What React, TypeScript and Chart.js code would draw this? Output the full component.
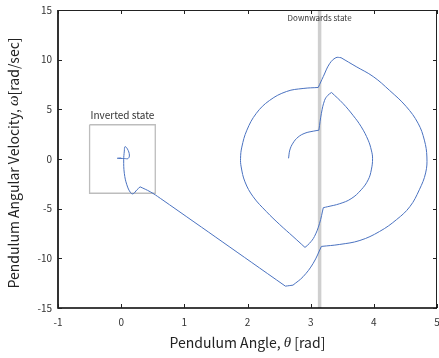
import React, { useEffect, useRef } from "react";
import { Chart, registerables } from "chart.js";

Chart.register(...registerables);

// Trajectory: pendulum angle (rad) and angular velocity (rad/sec)
// (corner points are listed twice so the smoothed line keeps its kinks)
const theta: number[] = [
  2.65, 2.67, 2.72, 2.80, 2.91, 3.04, 3.13, 3.13,
  3.17, 3.22, 3.27, 3.33, 3.33,
  3.51, 3.67, 3.80, 3.91, 3.96, 3.98, 3.96, 3.91, 3.80, 3.64, 3.46, 3.27, 3.20, 3.20,
  3.14, 3.06, 2.98, 2.91, 2.91,
  2.72, 2.51, 2.30, 2.09, 1.96, 1.90, 1.89, 1.91, 1.99, 2.14, 2.35, 2.62, 2.88, 3.12, 3.12,
  3.20, 3.30, 3.40, 3.48, 3.48,
  3.72, 3.99, 4.25, 4.51, 4.70, 4.80, 4.84, 4.82, 4.72, 4.57, 4.36, 4.09, 3.78, 3.46, 3.17, 3.17,
  3.04, 2.88, 2.72, 2.72, 2.60, 2.60,
  0.62, 0.46, 0.30, 0.30, 0.25, 0.19, 0.15, 0.09, 0.05, 0.04,
  0.05, 0.06, 0.10, 0.13, 0.11, 0.05, -0.06, 0.0,
];
const omega: number[] = [
  0.07, 0.9, 1.6, 2.2, 2.6, 2.8, 2.9, 2.9,
  4.6, 5.9, 6.4, 6.7, 6.7,
  5.6, 4.4, 3.25, 1.9, 0.9, 0.07, -1.1, -2.1, -3.1, -4.0, -4.5, -4.8, -4.9, -4.9,
  -6.5, -7.8, -8.5, -8.9, -8.9,
  -7.8, -6.6, -5.3, -3.8, -2.3, -0.8, 0.07, 1.2, 2.9, 4.6, 5.9, 6.8, 7.1, 7.2, 7.2,
  8.3, 9.6, 10.2, 10.2, 10.2,
  9.3, 8.3, 6.9, 5.3, 3.6, 1.9, 0.2, -1.4, -3.1, -4.8, -6.1, -7.3, -8.2, -8.6, -8.8, -8.8,
  -10.5, -11.85, -12.7, -12.7, -12.8, -12.8,
  -3.96, -3.3, -2.8, -2.8, -3.1, -3.5, -3.4, -2.6, -1.44, -0.1,
  0.8, 1.24, 1.0, 0.4, 0.05, 0.05, 0.07, 0.1,
];

// Downwards state marker (theta = pi)
const downTheta: number[] = [Math.PI, Math.PI];
const downOmega: number[] = [-15, 15];

// Inverted state box
const boxTheta: number[] = [-0.5, 0.54, 0.54, -0.5, -0.5];
const boxOmega: number[] = [3.45, 3.45, -3.45, -3.45, 3.45];

const xTicks: number[] = [-1, 0, 1, 2, 3, 4, 5];
const yTicks: number[] = [-15, -10, -5, 0, 5, 10, 15];

const toPts = (xs: number[], ys: number[]) => xs.map((v, i) => ({ x: v, y: ys[i] }));

const FONT = "'Noto Sans CJK JP', 'Noto Sans', sans-serif";

function drawMixed(ctx: CanvasRenderingContext2D, parts: { t: string; f: string }[], cx: number, cy: number) {
  let total = 0;
  const widths = parts.map((p) => {
    ctx.font = p.f;
    const w = ctx.measureText(p.t).width;
    total += w;
    return w;
  });
  let x = cx - total / 2;
  parts.forEach((p, i) => {
    ctx.font = p.f;
    ctx.fillText(p.t, x, cy);
    x += widths[i];
  });
}

const framePlugin = {
  id: "frame",
  afterDraw(chart: any) {
    const { ctx, chartArea, scales } = chart;
    const { left, right, top, bottom } = chartArea;
    const xs = scales.x;
    const ys = scales.y;
    ctx.save();
    // frame
    ctx.strokeStyle = "#222";
    ctx.lineWidth = 1;
    ctx.beginPath();
    ctx.moveTo(left, top + 0.5);
    ctx.lineTo(right - 0.5, top + 0.5);
    ctx.lineTo(right - 0.5, bottom);
    ctx.stroke();
    ctx.strokeStyle = "#000";
    ctx.lineWidth = 1.6;
    ctx.beginPath();
    ctx.moveTo(left, top);
    ctx.lineTo(left, bottom);
    ctx.lineTo(right, bottom);
    ctx.stroke();
    // inward ticks
    ctx.lineWidth = 1;
    ctx.strokeStyle = "#222";
    const tl = 4;
    xTicks.forEach((v) => {
      const px = Math.round(xs.getPixelForValue(v)) + 0.5;
      ctx.beginPath();
      ctx.moveTo(px, bottom);
      ctx.lineTo(px, bottom - tl);
      ctx.moveTo(px, top);
      ctx.lineTo(px, top + tl);
      ctx.stroke();
    });
    yTicks.forEach((v) => {
      const py = Math.round(ys.getPixelForValue(v)) + 0.5;
      ctx.beginPath();
      ctx.moveTo(left, py);
      ctx.lineTo(left + tl, py);
      ctx.moveTo(right, py);
      ctx.lineTo(right - tl, py);
      ctx.stroke();
    });
    // annotations
    ctx.fillStyle = "#333";
    ctx.textAlign = "center";
    ctx.textBaseline = "middle";
    ctx.font = `8px ${FONT}`;
    ctx.fillText("Downwards state", xs.getPixelForValue(Math.PI), top + 8);
    ctx.font = `10px ${FONT}`;
    ctx.fillText("Inverted state", xs.getPixelForValue(0.02), ys.getPixelForValue(3.45) - 10);
    // axis titles
    ctx.fillStyle = "#222";
    ctx.textAlign = "left";
    drawMixed(
      ctx,
      [
        { t: "Pendulum Angle, ", f: `14px ${FONT}` },
        { t: "θ", f: `italic 15px 'Liberation Serif', serif` },
        { t: " [rad]", f: `14px ${FONT}` },
      ],
      (left + right) / 2,
      343
    );
    ctx.translate(14, (top + bottom) / 2 + 4);
    ctx.rotate(-Math.PI / 2);
    drawMixed(
      ctx,
      [
        { t: "Pendulum Angular Velocity, ", f: `14px ${FONT}` },
        { t: "ω", f: `italic 15px 'Liberation Serif', serif` },
        { t: "[rad/sec]", f: `14px ${FONT}` },
      ],
      0,
      0
    );
    ctx.restore();
  },
};

export default function App() {
  const ref = useRef<HTMLCanvasElement | null>(null);
  useEffect(() => {
    if (!ref.current) return;
    const chart = new Chart(ref.current, {
      type: "scatter",
      data: {
        datasets: [
          {
            data: toPts(theta, omega),
            showLine: true,
            borderColor: "#4a72c0",
            borderWidth: 1,
            pointRadius: 0,
            tension: 0.4,
            order: 0,
          },
          {
            data: toPts(downTheta, downOmega),
            showLine: true,
            borderColor: "#cfcfcf",
            borderWidth: 3.5,
            pointRadius: 0,
            order: 2,
          },
          {
            data: toPts(boxTheta, boxOmega),
            showLine: true,
            borderColor: "#bdbdbd",
            borderWidth: 1.3,
            pointRadius: 0,
            tension: 0,
            order: 1,
          },
        ],
      },
      options: {
        animation: false,
        responsive: false,
        maintainAspectRatio: false,
        layout: { padding: { left: 0, top: 10, right: 2, bottom: 0 } },
        plugins: { legend: { display: false }, tooltip: { enabled: false } },
        scales: {
          x: {
            type: "linear",
            min: -1,
            max: 5,
            grid: { display: false, drawTicks: false },
            border: { display: false },
            ticks: {
              stepSize: 1,
              padding: 8,
              color: "#333",
              font: { family: FONT, size: 10 },
            },
            afterFit: (s: any) => {
              s.height = 50;
              s.paddingLeft = 0;
              s.paddingRight = 0;
            },
          },
          y: {
            type: "linear",
            min: -15,
            max: 15,
            grid: { display: false, drawTicks: false },
            border: { display: false },
            ticks: {
              stepSize: 5,
              padding: 6,
              color: "#333",
              font: { family: FONT, size: 10 },
            },
            afterFit: (s: any) => {
              s.width = 58;
              s.paddingTop = 0;
              s.paddingBottom = 0;
            },
          },
        },
      },
      plugins: [framePlugin],
    } as any);
    return () => chart.destroy();
  }, []);
  return (
    <div style={{ position: "fixed", left: 0, top: 0, width: 439, height: 358, background: "#fff" }}>
      <canvas ref={ref} width={439} height={358} style={{ display: "block" }} />
    </div>
  );
}
